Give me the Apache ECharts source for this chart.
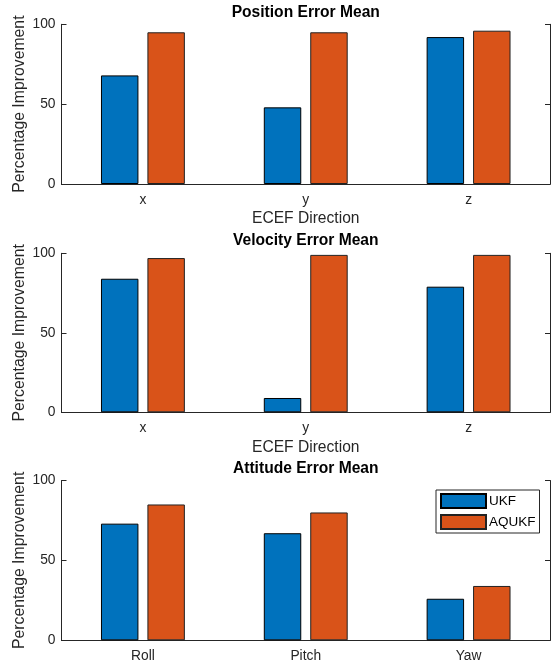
<!DOCTYPE html>
<html><head><meta charset="utf-8">
<script src="https://cdn.jsdelivr.net/npm/echarts@6/dist/echarts.min.js"></script>
<style>html,body{margin:0;padding:0;background:#fff}#c{width:551px;height:662px}</style>
</head><body><div id="c"></div>
<script>
const titles = ['Position Error Mean', 'Velocity Error Mean', 'Attitude Error Mean'];
const cats1 = ['x', 'y', 'z'];
const cats2 = ['x', 'y', 'z'];
const cats3 = ['Roll', 'Pitch', 'Yaw'];
const ukfPos = [68, 48, 92];
const aqukfPos = [95, 95, 96];
const ukfVel = [84, 9, 79];
const aqukfVel = [97, 99, 99];
const ukfAtt = [73, 67, 26];
const aqukfAtt = [85, 80, 34];
const yTicks = [0, 50, 100];
const xNames = ['ECEF Direction', 'ECEF Direction', ''];
const seriesNames = ['UKF', 'AQUKF'];

const FONT = '"Liberation Sans", Arial, sans-serif';
const AX = '#262626';
const BLUE = '#0072BD', ORANGE = '#D95319';

const cats = [cats1, cats2, cats3];
const ukf = [ukfPos, ukfVel, ukfAtt];
const aq = [aqukfPos, aqukfVel, aqukfAtt];
const grids = [
  {left: 61.5, right: 1, top: 24.3, height: 159.7, outerBoundsMode: 'none', containLabel: false},
  {left: 61.5, right: 1, top: 253.3, height: 159, outerBoundsMode: 'none', containLabel: false},
  {left: 61.5, right: 1, top: 480.5, height: 159.8, outerBoundsMode: 'none', containLabel: false}
];
const titleTops = [4.5, 233, 461];

const xAxis = [], yAxis = [], series = [], title = [];
for (let i = 0; i < 3; i++) {
  title.push({
    text: titles[i], left: 305.75, top: titleTops[i], textAlign: 'center', padding: 0,
    textStyle: {fontFamily: FONT, fontSize: 15.6, fontWeight: 'bold', color: '#000'}
  });
  xAxis.push({
    type: 'category', gridIndex: i, data: cats[i], position: 'bottom',
    name: xNames[i], nameLocation: 'middle', nameGap: 27, nameMoveOverlap: false,
    nameTextStyle: {fontFamily: FONT, fontSize: 15.6, color: AX},
    axisLine: {lineStyle: {color: AX, width: 1}},
    axisTick: {inside: true, alignWithLabel: true, length: 5, lineStyle: {color: AX}},
    axisLabel: {fontFamily: FONT, fontSize: 13.8, color: AX, margin: 9},
    splitLine: {show: false}
  });
  xAxis.push({
    type: 'category', gridIndex: i, data: cats[i], position: 'top',
    axisLine: {lineStyle: {color: AX, width: 1}},
    axisTick: {inside: true, alignWithLabel: true, length: 5, lineStyle: {color: AX}},
    axisLabel: {show: false}, splitLine: {show: false}
  });
  yAxis.push({
    type: 'value', gridIndex: i, min: yTicks[0], max: yTicks[yTicks.length - 1], interval: 50,
    position: 'left',
    name: 'Percentage Improvement', nameLocation: 'middle', nameGap: 34, nameMoveOverlap: false,
    nameTextStyle: {fontFamily: FONT, fontSize: 15.8, color: AX},
    axisLine: {show: true, lineStyle: {color: AX, width: 1}},
    axisTick: {show: true, inside: true, length: 5, lineStyle: {color: AX}},
    axisLabel: {fontFamily: FONT, fontSize: 13.8, color: AX, margin: 6},
    splitLine: {show: false}
  });
  yAxis.push({
    type: 'value', gridIndex: i, min: 0, max: 100, interval: 50, position: 'right',
    axisLine: {show: true, lineStyle: {color: AX, width: 1}},
    axisTick: {show: true, inside: true, length: 5, lineStyle: {color: AX}},
    axisLabel: {show: false}, splitLine: {show: false}
  });
  series.push({
    name: seriesNames[0], type: 'bar', xAxisIndex: 2 * i, yAxisIndex: 2 * i,
    data: ukf[i], barWidth: '23%', barGap: '24%',
    itemStyle: {color: BLUE, borderColor: '#000', borderWidth: 1}
  });
  series.push({
    name: seriesNames[1], type: 'bar', xAxisIndex: 2 * i, yAxisIndex: 2 * i,
    data: aq[i], barWidth: '23%', barGap: '24%',
    itemStyle: {color: ORANGE, borderColor: '#222', borderWidth: 1}
  });
}

const chart = echarts.init(document.getElementById('c'), null, {renderer: 'canvas'});
chart.setOption({
  animation: false,
  backgroundColor: '#fff',
  title: title,
  grid: grids,
  xAxis: xAxis,
  yAxis: yAxis,
  legend: {
    data: seriesNames, orient: 'vertical', left: 436, top: 490,
    itemWidth: 45, itemHeight: 14, itemGap: 5, padding: [3, 4, 3, 4],
    borderColor: AX, borderWidth: 1, backgroundColor: '#fff',
    icon: 'rect',
    textStyle: {fontFamily: FONT, fontSize: 13.5, color: '#000', padding: [0, 0, 0, -2]}
  },
  series: series
});
</script></body></html>
